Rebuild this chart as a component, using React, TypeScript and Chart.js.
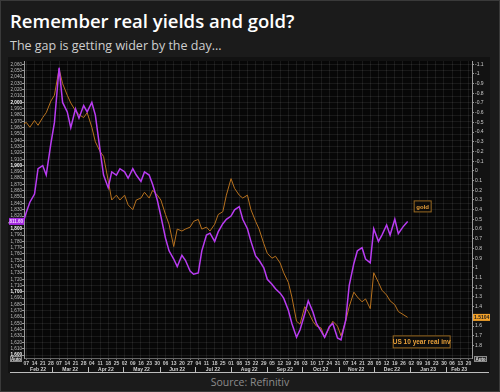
import React, { useEffect, useRef } from "react";
import { Chart, registerables } from "chart.js";

Chart.register(...registerables);

// ---------- data ----------
const dates = [
  "2022-02-04", "2022-02-07", "2022-02-10", "2022-02-14", "2022-02-17", "2022-02-21", "2022-02-24", "2022-02-28",
  "2022-03-03", "2022-03-07", "2022-03-10", "2022-03-14", "2022-03-17", "2022-03-21", "2022-03-24", "2022-03-28",
  "2022-03-31", "2022-04-04", "2022-04-07", "2022-04-11", "2022-04-14", "2022-04-18", "2022-04-21", "2022-04-25",
  "2022-04-28", "2022-05-02", "2022-05-05", "2022-05-09", "2022-05-12", "2022-05-16", "2022-05-19", "2022-05-23",
  "2022-05-26", "2022-05-30", "2022-06-02", "2022-06-06", "2022-06-09", "2022-06-13", "2022-06-16", "2022-06-20",
  "2022-06-23", "2022-06-27", "2022-06-30", "2022-07-04", "2022-07-07", "2022-07-11", "2022-07-14", "2022-07-18",
  "2022-07-21", "2022-07-25", "2022-07-28", "2022-08-01", "2022-08-04", "2022-08-08", "2022-08-11", "2022-08-15",
  "2022-08-18", "2022-08-22", "2022-08-25", "2022-08-29", "2022-09-01", "2022-09-05", "2022-09-08", "2022-09-12",
  "2022-09-15", "2022-09-19", "2022-09-22", "2022-09-26", "2022-09-29", "2022-10-03", "2022-10-06", "2022-10-10",
  "2022-10-13", "2022-10-17", "2022-10-20", "2022-10-24", "2022-10-27", "2022-10-31", "2022-11-03", "2022-11-07",
  "2022-11-10", "2022-11-14", "2022-11-17", "2022-11-21", "2022-11-24", "2022-11-28", "2022-12-01", "2022-12-05",
  "2022-12-08", "2022-12-12", "2022-12-15", "2022-12-19", "2022-12-22", "2022-12-26", "2022-12-30",
];

const goldPrice = [
  1808, 1826, 1842, 1855, 1895, 1900, 1885, 1935,
  1968, 2055, 2000, 1985, 1960, 1990, 1975, 1995,
  1985, 2000, 1980, 1925, 1885, 1865, 1890, 1885,
  1895, 1890, 1880, 1895, 1885, 1875, 1890, 1885,
  1870, 1845, 1820, 1785, 1765, 1752, 1740, 1758,
  1750, 1733, 1728, 1730, 1765, 1790, 1793, 1780,
  1795, 1808, 1815, 1820, 1830, 1835, 1815, 1800,
  1780, 1757, 1750, 1738, 1720, 1712, 1705, 1698,
  1690, 1671, 1650, 1628, 1640, 1665, 1686, 1668,
  1650, 1638, 1628, 1645, 1650, 1627, 1624, 1655,
  1710, 1745, 1765, 1770, 1752, 1746, 1800, 1780,
  1790, 1806, 1790, 1815, 1792, 1803, 1811.6,
];

const realYield = [
  -0.48, -0.5, -0.45, -0.52, -0.47, -0.55, -0.6, -0.72,
  -0.78, -1.05, -0.9, -0.78, -0.7, -0.62, -0.58, -0.55,
  -0.6, -0.45, -0.3, -0.2, -0.15, 0.1, 0.3, 0.25,
  0.3, 0.25, 0.35, 0.4, 0.3, 0.28, 0.22, 0.28,
  0.2, 0.25, 0.3, 0.45, 0.55, 0.78, 0.6, 0.62,
  0.6, 0.58, 0.52, 0.5, 0.6, 0.58, 0.62, 0.55,
  0.45, 0.42, 0.25, 0.08, 0.18, 0.25, 0.28, 0.25,
  0.4, 0.52, 0.6, 0.75, 0.85, 0.9, 0.88, 0.95,
  1.05, 1.15, 1.3, 1.55, 1.58, 1.4, 1.45, 1.55,
  1.6, 1.62, 1.72, 1.62, 1.55, 1.6, 1.7, 1.55,
  1.4, 1.25, 1.3, 1.35, 1.32, 1.42, 1.05, 1.15,
  1.23, 1.28, 1.34, 1.38, 1.45, 1.48, 1.5104,
];

const monthLabels = [
  "Feb 22", "Mar 22", "Apr 22", "May 22", "Jun 22", "Jul 22", "Aug 22",
  "Sep 22", "Oct 22", "Nov 22", "Dec 22", "Jan 23", "Feb 23",
];
const monthStarts = [
  "2022-02-01", "2022-03-01", "2022-04-01", "2022-05-01", "2022-06-01", "2022-07-01", "2022-08-01",
  "2022-09-01", "2022-10-01", "2022-11-01", "2022-12-01", "2023-01-01", "2023-02-01", "2023-03-01",
];

const xStartDate = "2022-02-05";
const xEndDate = "2023-02-23";
const firstWeekTick = "2022-02-07";
const lastWeekTick = "2023-02-20";

const goldAxisMin = 1595.3;
const goldAxisMax = 2065.6;
const goldTickFrom = 1600;
const goldTickTo = 2060;
const goldTickStep = 10;

const yieldAxisMin = -1.133;
const yieldAxisMax = 1.929;
const yieldTickFrom = -1.1;
const yieldTickTo = 1.8;
const yieldTickStep = 0.1;

// ---------- helpers ----------
const BASE = Date.parse("2022-02-07");
const DAY = 86400000;
const dayOf = (s: string) => Math.round((Date.parse(s) - BASE) / DAY);

const FONT = "'Liberation Sans', Arial, sans-serif";
const GOLD_COLOR = "#b93cf2";
const YIELD_COLOR = "#b8721e";
const LABEL_ORANGE = "#e8a03a";

const fmtGold = (v: number) =>
  Math.round(v).toString().replace(/\B(?=(\d{3})+(?!\d))/g, ",");

export default function App() {
  const ref = useRef<HTMLCanvasElement | null>(null);

  useEffect(() => {
    const canvas = ref.current;
    if (!canvas) return;

    const goldPts = dates.map((d, i) => ({ x: dayOf(d), y: goldPrice[i] }));
    const yieldPts = dates.map((d, i) => ({ x: dayOf(d), y: realYield[i] }));

    const weekTicks: number[] = [];
    for (let d = dayOf(firstWeekTick); d <= dayOf(lastWeekTick); d += 7) weekTicks.push(d);
    const goldTicks: number[] = [];
    for (let v = goldTickFrom; v <= goldTickTo + 0.001; v += goldTickStep) goldTicks.push(Math.round(v));
    const yieldTicks: number[] = [];
    for (let v = yieldTickFrom; v <= yieldTickTo + 0.0001; v += yieldTickStep)
      yieldTicks.push(Math.round(v * 10) / 10);

    const bgPlugin = {
      id: "bg",
      beforeDraw(chart: any) {
        const { ctx, chartArea: a, width, height } = chart;
        ctx.save();
        ctx.fillStyle = "#121212";
        ctx.fillRect(0, 0, width, height);
        ctx.fillStyle = "#070707";
        ctx.fillRect(a.left, a.top, a.right - a.left, a.bottom - a.top);
        ctx.restore();
      },
    };

    const overlayPlugin = {
      id: "overlay",
      afterDraw(chart: any) {
        const { ctx, chartArea: a, scales } = chart;
        const xs = scales.x;
        const yg = scales.yGold;
        const yr = scales.yReal;
        ctx.save();

        // month row
        const xMin = xs.min;
        const xMax = xs.max;
        ctx.font = `bold 5px ${FONT}`;
        ctx.fillStyle = "#d0d0d0";
        ctx.textAlign = "center";
        ctx.textBaseline = "alphabetic";
        ctx.strokeStyle = "#bdbdbd";
        ctx.lineWidth = 1;
        for (let i = 0; i < monthLabels.length; i++) {
          const s = Math.max(dayOf(monthStarts[i]), xMin);
          const e = Math.min(dayOf(monthStarts[i + 1]), xMax);
          if (e <= s) continue;
          const cx = xs.getPixelForValue((s + e) / 2);
          ctx.fillText(monthLabels[i], cx, a.bottom + 13);
          if (dayOf(monthStarts[i]) > xMin) {
            const px = Math.round(xs.getPixelForValue(dayOf(monthStarts[i]))) + 0.5;
            ctx.beginPath();
            ctx.moveTo(px, a.bottom + 9);
            ctx.lineTo(px, a.bottom + 14);
            ctx.stroke();
          }
        }
        ctx.beginPath();
        ctx.moveTo(2, a.bottom + 14.5);
        ctx.lineTo(chart.width - 1, a.bottom + 14.5);
        ctx.stroke();

        // last value highlight boxes
        const lastGold = goldPrice[goldPrice.length - 1];
        const lastYield = realYield[realYield.length - 1];
        const gy = yg.getPixelForValue(lastGold);
        ctx.fillStyle = "#a428e0";
        ctx.fillRect(1, gy - 3.5, a.left - 1, 7);
        ctx.fillStyle = "#f3d6ff";
        ctx.font = `bold 4.5px ${FONT}`;
        ctx.textAlign = "right";
        ctx.textBaseline = "middle";
        ctx.fillText(lastGold.toLocaleString("en-US", { minimumFractionDigits: 2 }), a.left - 1, gy);

        const ry = yr.getPixelForValue(lastYield);
        ctx.fillStyle = "#f2a12a";
        ctx.fillRect(a.right + 1, ry - 3.5, 17, 7);
        ctx.fillStyle = "#1a1a1a";
        ctx.textAlign = "left";
        ctx.font = `bold 5px ${FONT}`;
        ctx.fillText(lastYield.toFixed(4), a.right + 2, ry);

        // "Auto" buttons
        const autoBox = (x: number, y: number, w: number) => {
          ctx.fillStyle = "#2a2a2a";
          ctx.fillRect(x, y, w, 6);
          ctx.strokeStyle = "#8a8a8a";
          ctx.strokeRect(x + 0.5, y + 0.5, w - 1, 5);
          ctx.fillStyle = "#e0e0e0";
          ctx.font = `bold 4.5px ${FONT}`;
          ctx.textAlign = "center";
          ctx.textBaseline = "middle";
          ctx.fillText("Auto", x + w / 2, y + 3.3);
        };
        autoBox(2, a.bottom - 2, 12);
        autoBox(a.right + 2, a.bottom - 2, 13);

        // series labels near line ends
        const lastX = xs.getPixelForValue(dayOf(dates[dates.length - 1]));
        const labelBox = (text: string, x: number, y: number, w: number, h: number, size: number) => {
          ctx.fillStyle = "#0b0b0b";
          ctx.fillRect(x, y, w, h);
          ctx.strokeStyle = "#9a6a22";
          ctx.lineWidth = 1;
          ctx.strokeRect(x + 0.5, y + 0.5, w - 1, h - 1);
          ctx.fillStyle = LABEL_ORANGE;
          ctx.font = `bold ${size}px ${FONT}`;
          ctx.textAlign = "center";
          ctx.textBaseline = "middle";
          ctx.fillText(text, x + w / 2, y + h / 2 + 0.5);
        };
        labelBox("gold", lastX + 6, gy - 21, 18, 12, 6);
        labelBox("US 10 year real inv", lastX - 15, ry + 18, 58, 13, 6.5);

        ctx.restore();
      },
    };

    const gridColor = "rgba(255,255,255,0.075)";

    const chart = new Chart(canvas, {
      type: "line",
      data: {
        datasets: [
          {
            label: "gold",
            data: goldPts,
            yAxisID: "yGold",
            borderColor: GOLD_COLOR,
            borderWidth: 1.5,
            pointRadius: 0,
            tension: 0,
          },
          {
            label: "US 10 year real inv",
            data: yieldPts,
            yAxisID: "yReal",
            borderColor: YIELD_COLOR,
            borderWidth: 1,
            pointRadius: 0,
            tension: 0,
          },
        ],
      },
      options: {
        animation: false,
        responsive: false,
        maintainAspectRatio: false,
        layout: { padding: { top: 1, left: 0, right: 0, bottom: 0 } },
        plugins: { legend: { display: false }, tooltip: { enabled: false }, title: { display: false } },
        scales: {
          x: {
            type: "linear",
            min: dayOf(xStartDate),
            max: dayOf(xEndDate),
            afterBuildTicks: (s: any) => {
              s.ticks = weekTicks.map((v) => ({ value: v }));
            },
            afterFit: (s: any) => {
              s.height = 15;
            },
            ticks: {
              autoSkip: false,
              maxRotation: 0,
              padding: 1,
              color: "#c8c8c8",
              font: { size: 5, family: FONT, weight: "bold" },
              callback: (v: any) => {
                const d = new Date(BASE + Number(v) * DAY);
                return String(d.getUTCDate()).padStart(2, "0");
              },
            },
            grid: { color: gridColor, tickLength: 2, tickColor: "#777" },
            border: { display: true, color: "#666" },
          },
          yGold: {
            type: "linear",
            position: "left",
            min: goldAxisMin,
            max: goldAxisMax,
            afterBuildTicks: (s: any) => {
              s.ticks = goldTicks.map((v) => ({ value: v }));
            },
            afterFit: (s: any) => {
              s.width = 16;
            },
            ticks: {
              autoSkip: false,
              padding: 0,
              color: (c: any) => (c.tick && c.tick.value % 100 === 0 ? "#ffffff" : "#bdbdbd"),
              font: (c: any) => ({
                size: 4.6,
                family: FONT,
                weight: c.tick && c.tick.value % 100 === 0 ? "bold" : "normal",
              }),
              callback: (v: any) => fmtGold(Number(v)),
            },
            grid: { color: gridColor, tickLength: 2, tickColor: "#999" },
            border: { display: true, color: "#9a9a9a" },
          },
          yReal: {
            type: "linear",
            position: "right",
            reverse: true,
            min: yieldAxisMin,
            max: yieldAxisMax,
            afterBuildTicks: (s: any) => {
              s.ticks = yieldTicks.map((v) => ({ value: v }));
            },
            afterFit: (s: any) => {
              s.width = 18;
            },
            ticks: {
              autoSkip: false,
              padding: 1,
              color: "#c8c8c8",
              font: { size: 5, family: FONT },
              callback: (v: any) => String(Math.round(Number(v) * 10) / 10),
            },
            grid: { drawOnChartArea: false, tickLength: 2, tickColor: "#999" },
            border: { display: true, color: "#9a9a9a" },
          },
        },
      },
      plugins: [bgPlugin, overlayPlugin],
    } as any);

    return () => chart.destroy();
  }, []);

  return (
    <div
      style={{
        position: "fixed",
        left: 0,
        top: 0,
        width: 500,
        height: 392,
        background: "#1b1b1b",
        boxSizing: "border-box",
        border: "1px solid #3a3a3a",
        overflow: "hidden",
      }}
    >
      <div
        style={{
          position: "absolute",
          left: 9,
          top: 8,
          font: "600 18.5px 'Open Sans', sans-serif",
          color: "#ffffff",
          whiteSpace: "nowrap",
          lineHeight: "24px",
        }}
      >
        Remember real yields and gold?
      </div>
      <div
        style={{
          position: "absolute",
          left: 9,
          top: 37,
          font: "400 12.5px 'Open Sans', sans-serif",
          color: "#cfcfcf",
          whiteSpace: "nowrap",
          lineHeight: "16px",
        }}
      >
        The gap is getting wider by the day...
      </div>
      <canvas
        ref={ref}
        width={482}
        height={316}
        style={{ position: "absolute", left: 7, top: 56, width: 482, height: 316 }}
      />
      <div
        style={{
          position: "absolute",
          left: 0,
          width: 498,
          top: 374,
          textAlign: "center",
          font: "400 10.5px 'Open Sans', sans-serif",
          color: "#8c8c8c",
          lineHeight: "14px",
        }}
      >
        Source: Refinitiv
      </div>
    </div>
  );
}
